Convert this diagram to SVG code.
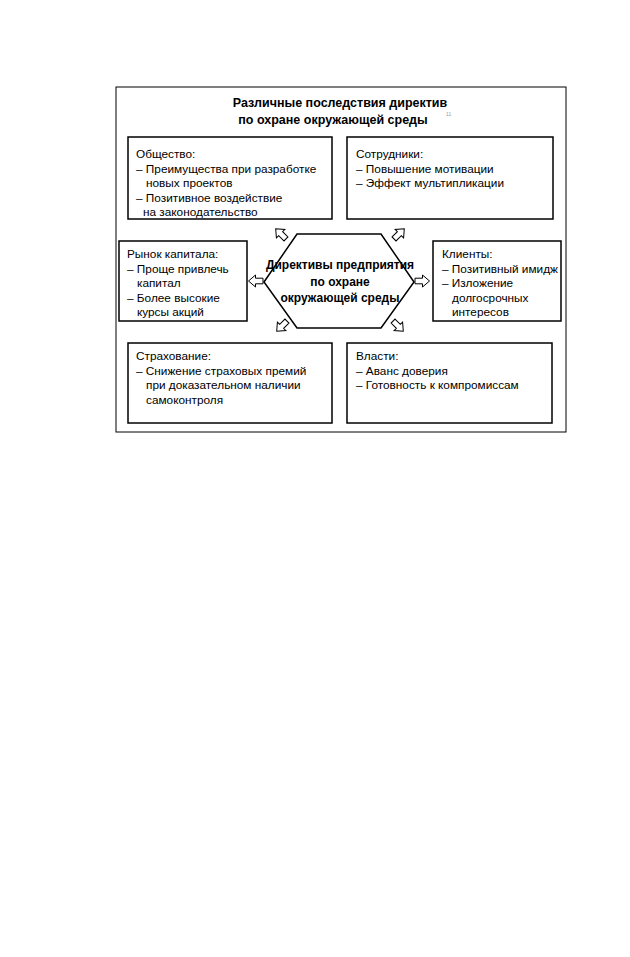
<svg xmlns="http://www.w3.org/2000/svg" width="630" height="957" viewBox="0 0 630 957">
<style>
.t{font-family:"Liberation Sans",Arial,sans-serif;font-size:11.8px;fill:#000}
.b{font-family:"Liberation Sans",Arial,sans-serif;font-weight:bold;fill:#000}
.box{fill:#fff;stroke:#000;stroke-width:1.5}
.arr{fill:#fff;stroke:#000;stroke-width:1}
</style>
<defs>
<path id="ba" class="arr" d="M-7,-2.8 L0.5,-2.8 L0.5,-6 L7.5,0 L0.5,6 L0.5,2.8 L-7,2.8 Z"/>
</defs>
<rect width="630" height="957" fill="#fff"/>
<g id="frame">
<rect x="116" y="87" width="450" height="345" fill="none" stroke="#000" stroke-width="1"/>
<text class="b" style="font-size:12.5px" x="340" y="107" text-anchor="middle">Различные последствия директив</text>
<text class="b" style="font-size:12.5px" x="333" y="124" text-anchor="middle">по охране окружающей среды</text>
<text style="font-family:'Liberation Sans',sans-serif;font-size:5px;fill:#999" x="446" y="116">11</text>
</g>
<g id="obshchestvo">
<rect class="box" x="128" y="137" width="204" height="82"/>
<text class="t" x="136" y="158">Общество:</text>
<text class="t" x="136" y="172.5">– Преимущества при разработке</text>
<text class="t" x="146" y="187">новых проектов</text>
<text class="t" x="136" y="201.5">– Позитивное воздействие</text>
<text class="t" x="143" y="216">на законодательство</text>
</g>
<g id="sotrudniki">
<rect class="box" x="347" y="137" width="206" height="82"/>
<text class="t" x="356" y="158">Сотрудники:</text>
<text class="t" x="356" y="172.5">– Повышение мотивации</text>
<text class="t" x="356" y="187">– Эффект мультипликации</text>
</g>
<g id="rynok">
<rect class="box" x="119" y="241" width="128" height="80"/>
<text class="t" x="127" y="258">Рынок капитала:</text>
<text class="t" x="127" y="272.5">– Проще привлечь</text>
<text class="t" x="137" y="287">капитал</text>
<text class="t" x="127" y="301.5">– Более высокие</text>
<text class="t" x="137" y="316">курсы акций</text>
</g>
<g id="direktivy">
<polygon class="box" points="264,282 297,234 381,234 414,282 381,328 297,328"/>
<text class="b" style="font-size:12px" x="340" y="269" text-anchor="middle">Директивы предприятия</text>
<text class="b" style="font-size:12px" x="340" y="286" text-anchor="middle">по охране</text>
<text class="b" style="font-size:12px" x="340" y="302" text-anchor="middle">окружающей  среды</text>
</g>
<g id="klienty">
<rect class="box" x="433" y="241" width="128" height="80"/>
<text class="t" x="442" y="258">Клиенты:</text>
<text class="t" x="442" y="272.5">– Позитивный имидж</text>
<text class="t" x="442" y="287">– Изложение</text>
<text class="t" x="452" y="301.5">долгосрочных</text>
<text class="t" x="452" y="316">интересов</text>
</g>
<g id="strakhovanie">
<rect class="box" x="128" y="343" width="204" height="80"/>
<text class="t" x="136" y="360">Страхование:</text>
<text class="t" x="136" y="374.5">– Снижение страховых премий</text>
<text class="t" x="146" y="389">при доказательном наличии</text>
<text class="t" x="146" y="403.5">самоконтроля</text>
</g>
<g id="vlasti">
<rect class="box" x="347" y="343" width="205" height="80"/>
<text class="t" x="356" y="360">Власти:</text>
<text class="t" x="356" y="374.5">– Аванс доверия</text>
<text class="t" x="356" y="389">– Готовность к компромиссам</text>
</g>
<g id="connectors">
<use href="#ba" transform="translate(281,234) rotate(-135)"/>
<use href="#ba" transform="translate(399,234) rotate(-45)"/>
<use href="#ba" transform="translate(256,281) rotate(180)"/>
<use href="#ba" transform="translate(422,281)"/>
<use href="#ba" transform="translate(282,326) rotate(135)"/>
<use href="#ba" transform="translate(398,326) rotate(45)"/>
</g>
</svg>
